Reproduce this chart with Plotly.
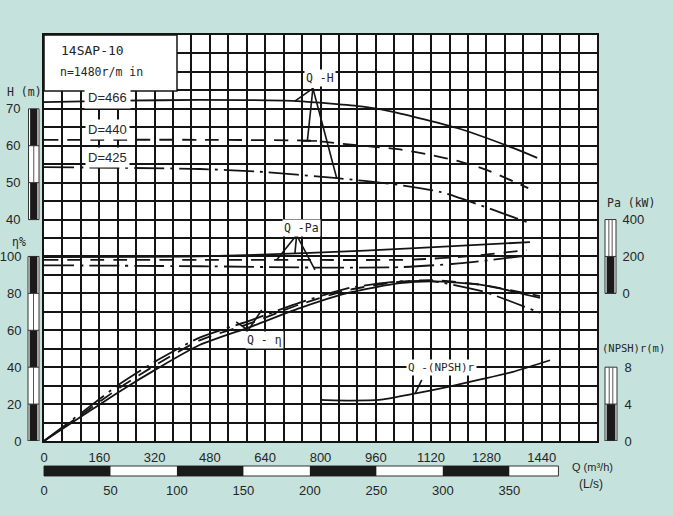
import plotly.graph_objects as go

# ---------------- data ----------------
Q_TICKS = [0, 160, 320, 480, 640, 800, 960, 1120, 1280, 1440]
LS_TICKS = [0, 50, 100, 150, 200, 250, 300, 350]
H_TICKS = [40, 50, 60, 70]
ETA_TICKS = [0, 20, 40, 60, 80, 100]
PA_TICKS = [0, 200, 400]
NPSH_TICKS = [0, 4, 8]

diameters = ["D=466", "D=440", "D=425"]

# Q-H
q_h466 = [0, 225, 451, 730, 923, 1010, 1195, 1357, 1427]
h_466 = [71.8, 72.2, 72.4, 72.1, 70.6, 69.2, 64.8, 59.4, 56.7]
q_h440 = [0, 451, 784, 865, 1030, 1117, 1204, 1282, 1401]
h_440 = [61.6, 61.6, 61.3, 60.5, 59.0, 57.5, 55.7, 53.4, 48.5]
q_h425 = [0, 451, 616, 848, 1010, 1146, 1204, 1398]
h_425 = [54.2, 53.7, 53.0, 51.2, 49.6, 47.5, 45.8, 39.3]

# Q-Pa (kW)
q_pa466 = [0, 451, 770, 1088, 1406]
pa_466 = [197, 200, 219, 246, 278]
q_pa440 = [0, 451, 741, 1068, 1232, 1397]
pa_440 = [181, 181, 181, 183, 202, 235]
q_pa425 = [0, 451, 770, 1030, 1200, 1400]
pa_425 = [152, 147, 140, 142, 162, 205]

# Q-eta (%)
q_eta = [0, 110, 220, 330, 450, 600, 740, 885, 1030, 1125, 1270, 1435]
eta_466 = [0, 13.5, 27, 39.5, 52, 62, 72, 80.5, 85.5, 86.5, 84.5, 77.5]
eta_440 = [0, 14.5, 29, 42, 54.5, 64, 74, 82, 86.3, 87.2, 84.5, 78.5]
eta_425 = [0, 15.5, 31, 44, 56, 65.5, 75, 83, 86.5, 86.5, 81, 69.5]

# Q-(NPSH)r (m)
q_npsh = [800, 880, 970, 1068, 1166, 1260, 1357, 1464]
npsh = [4.45, 4.38, 4.45, 5.1, 5.85, 6.65, 7.5, 8.75]

# ---------------- styling ----------------
BG = "#c5e2dc"
INK = "#141414"
TXT = "#262626"
MONO = "DejaVu Sans Mono"
SANS = "Liberation Sans"
DASH = {"D=466": "solid", "D=440": "14px,9px", "D=425": "30px,6px,3px,6px"}
LW = 1.8

ETA_MAX = 220.0
Q_MAX = 1600.0
LS_MAX = 416.0
H_RANGE = [-20, 90]
PA_RANGE = [-800, 1400]
NPSH_RANGE = [0, 44]
PLOT_W = 553.0

fig = go.Figure()

def add(x, y, d, yaxis):
    fig.add_trace(go.Scatter(x=x, y=y, mode="lines", yaxis=yaxis,
                             line=dict(color=INK, width=LW, dash=DASH[d], shape="spline", smoothing=0.6),
                             showlegend=False, hoverinfo="skip"))

for (qq, hh), d in zip([(q_h466, h_466), (q_h440, h_440), (q_h425, h_425)], diameters):
    add(qq, hh, d, "y2")
for (qq, pp), d in zip([(q_pa466, pa_466), (q_pa440, pa_440), (q_pa425, pa_425)], diameters):
    add(qq, pp, d, "y3")
for ee, d in zip([eta_466, eta_440, eta_425], diameters):
    add(q_eta, ee, d, "y")
fig.add_trace(go.Scatter(x=q_npsh, y=npsh, mode="lines", yaxis="y4",
                         line=dict(color=INK, width=LW, shape="spline", smoothing=0.6),
                         showlegend=False, hoverinfo="skip"))
# invisible helper so that the L/s axis is drawn
fig.add_trace(go.Scatter(x=LS_TICKS, y=[0] * len(LS_TICKS), xaxis="x2", mode="markers",
                         marker=dict(opacity=0), showlegend=False, hoverinfo="skip"))

shapes = []
# white title box in the upper-left corner of the grid
shapes.append(dict(type="rect", xref="paper", yref="paper", x0=0, x1=0.2405, y0=0.862, y1=1,
                   fillcolor="white", line=dict(color=INK, width=1.5), layer="above"))

# leader lines (label -> curves), in data units
def leader(x0, y0, x1, y1, yref="y"):
    shapes.append(dict(type="line", xref="x", yref=yref, x0=x0, y0=y0, x1=x1, y1=y1,
                       line=dict(color=INK, width=1.6), layer="above"))

for tx, ty in [(726, 184.2), (762, 162.6), (847, 142.4)]:
    leader(778, 191.1, tx, ty)
leader(745, 162.6, 790, 162.6)
for tx, ty in [(673, 98.1), (726, 101.7), (784, 92.7)]:
    leader(731, 111.6, tx, ty)
for tx, ty in [(556, 64.5), (630, 71.0)]:
    leader(591, 60.1, tx, ty)
leader(1093, 33.1, 1074, 25.8)

# striped scale bars next to the vertical axes
def vbar(px0, px1, yref, segs, double=False):
    x0 = px0 / PLOT_W
    x1 = px1 / PLOT_W
    inset = 1.6 / PLOT_W
    lo, hi = segs[0][0], segs[-1][1]
    shapes.append(dict(type="rect", xref="paper", yref=yref, x0=x0, x1=x1, y0=lo, y1=hi,
                       fillcolor="white", line=dict(color="#333", width=1), layer="above"))
    for a, b, black in segs:
        if black:
            shapes.append(dict(type="rect", xref="paper", yref=yref, x0=x0 + inset, x1=x1 - inset,
                               y0=a, y1=b, fillcolor="#1a1a1a", line=dict(width=0), layer="above"))
        else:
            cs = [(x0 + x1) / 2] if not double else [x0 + (x1 - x0) * 0.35, x0 + (x1 - x0) * 0.65]
            for c in cs:
                shapes.append(dict(type="line", xref="paper", yref=yref, x0=c, x1=c, y0=a, y1=b,
                                   line=dict(color="#555", width=1), layer="above"))
        shapes.append(dict(type="line", xref="paper", yref=yref, x0=x0, x1=x1, y0=a, y1=a,
                           line=dict(color="#333", width=1), layer="above"))

vbar(28.5 - 44, 39 - 44, "y2", [(H_TICKS[i], H_TICKS[i + 1], i % 2 == 0) for i in range(len(H_TICKS) - 1)])
vbar(28 - 44, 39 - 44, "y", [(ETA_TICKS[i], ETA_TICKS[i + 1], i % 2 == 0) for i in range(len(ETA_TICKS) - 1)])
vbar(605 - 44, 616 - 44, "y3", [(PA_TICKS[i], PA_TICKS[i + 1], i % 2 == 0) for i in range(len(PA_TICKS) - 1)], True)
vbar(605 - 44, 617 - 44, "y4", [(NPSH_TICKS[i], NPSH_TICKS[i + 1], i % 2 == 0) for i in range(len(NPSH_TICKS) - 1)], True)

# horizontal striped bar (L/s scale) under the Q axis
by0, by1 = -0.0616, -0.0862
bar_end = 387
shapes.append(dict(type="rect", xref="paper", yref="paper", x0=0, x1=bar_end / LS_MAX, y0=by1, y1=by0,
                   fillcolor="white", line=dict(color="#333", width=1), layer="above"))
for i in range(0, len(LS_TICKS), 2):
    a = LS_TICKS[i]
    b = LS_TICKS[i + 1] if i + 1 < len(LS_TICKS) else bar_end
    shapes.append(dict(type="rect", xref="paper", yref="paper", x0=a / LS_MAX, x1=b / LS_MAX,
                       y0=by1, y1=by0, fillcolor="#1a1a1a", line=dict(width=0), layer="above"))

annotations = []
def note(text, x, y, xref="paper", yref="paper", size=12, family=MONO, xanchor="left", bg=None, pad=1):
    a = dict(text=text, x=x, y=y, xref=xref, yref=yref, showarrow=False, xanchor=xanchor,
             yanchor="middle", font=dict(family=family, size=size, color=TXT), borderpad=pad)
    if bg:
        a["bgcolor"] = bg
    annotations.append(a)

note("14SAP-10", 0.027, 0.963, size=13)
note("n=1480r/m in", 0.025, 0.909, size=11.5)
note("H (m)", -0.0705, 0.8596, size=11.5)
note("η%", -0.062, 0.490, size=11.5)
note("Pa (kW)", 1.0145, 0.586, size=11.5)
note("(NPSH)r(m)", 1.006, 0.229, size=10.5)
note("Q (m³/h)", 0.951, -0.064, size=11, family=SANS)
note("(L/s)", 0.964, -0.106, size=12, family=SANS)

# curve labels (white-backed)
note(diameters[0], 185, 73.0, xref="x", yref="y2", size=13, family=SANS, xanchor="center", bg="white", pad=3)
note(diameters[1], 185, 64.5, xref="x", yref="y2", size=13, family=SANS, xanchor="center", bg="white", pad=2)
note(diameters[2], 185, 56.7, xref="x", yref="y2", size=13, family=SANS, xanchor="center", bg="white", pad=2)
note("Q -H", 798, 196.5, xref="x", yref="y", size=11.5, xanchor="center", bg="white", pad=1)
note("Q -Pa", 746, 115.4, xref="x", yref="y", size=11.5, xanchor="center", bg="white", pad=1)
note("Q - η", 639, 54.7, xref="x", yref="y", size=11.5, xanchor="center", bg="white", pad=1)
note("Q -(NPSH)r", 1151, 39.6, xref="x", yref="y", size=11, xanchor="center", bg="white", pad=1)

grid = dict(gridcolor=INK, gridwidth=2)
tick_font = dict(family=SANS, size=13, color=TXT)
clear = "rgba(0,0,0,0)"

fig.update_layout(
    width=673, height=516,
    margin=dict(l=44, r=76, t=35, b=75, autoexpand=False),
    paper_bgcolor=BG, plot_bgcolor="white",
    shapes=shapes, annotations=annotations,
    xaxis=dict(range=[0, Q_MAX], tickmode="array", tickvals=Q_TICKS, showgrid=True, **grid,
               minor=dict(tick0=0, dtick=Q_MAX / 30, showgrid=True, **grid),
               ticks="outside", ticklen=3, tickcolor=clear, tickfont=tick_font, automargin=False,
               showline=True, mirror=True, linecolor=INK, linewidth=2, zeroline=False),
    xaxis2=dict(range=[0, LS_MAX], overlaying="x", anchor="y", side="bottom", tickmode="array",
                tickvals=LS_TICKS, showgrid=False, ticks="outside", ticklen=37, tickcolor=clear,
                tickfont=tick_font, showline=False, zeroline=False, automargin=False),
    yaxis=dict(range=[0, ETA_MAX], tickmode="array", tickvals=ETA_TICKS, showgrid=True, **grid,
               minor=dict(tick0=0, dtick=10, showgrid=True, **grid),
               ticks="outside", ticklen=18, tickcolor=clear, tickfont=tick_font, automargin=False,
               showline=True, mirror=True, linecolor=INK, linewidth=2, zeroline=False),
    yaxis2=dict(range=H_RANGE, overlaying="y", side="left", anchor="x", tickmode="array",
                tickvals=H_TICKS, showgrid=False, ticks="outside", ticklen=20, tickcolor=clear,
                tickfont=tick_font, zeroline=False, showline=False, automargin=False),
    yaxis3=dict(range=PA_RANGE, overlaying="y", side="right", anchor="x", tickmode="array",
                tickvals=PA_TICKS, showgrid=False, ticks="outside", ticklen=22, tickcolor=clear,
                tickfont=tick_font, zeroline=False, showline=False, automargin=False),
    yaxis4=dict(range=NPSH_RANGE, overlaying="y", side="right", anchor="x", tickmode="array",
                tickvals=NPSH_TICKS, showgrid=False, ticks="outside", ticklen=24, tickcolor=clear,
                tickfont=tick_font, zeroline=False, showline=False, automargin=False),
)

fig.write_html("out.html", config={"displayModeBar": False},
               post_script="document.body.style.margin='0';")
